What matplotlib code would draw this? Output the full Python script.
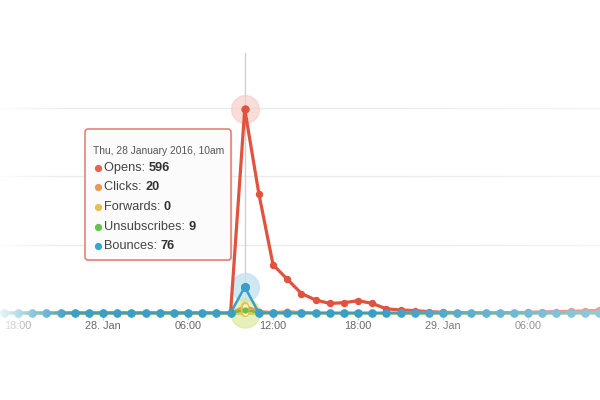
import numpy as np
import matplotlib
matplotlib.use('Agg')
import matplotlib.pyplot as plt
from matplotlib.patches import FancyBboxPatch

plt.rcParams['font.family'] = ['Liberation Sans', 'DejaVu Sans']

# hours counted from 28 Jan 2016 00:00
hours = list(range(-8, 37))

opens = [0]*18 + [596, 348, 141, 99, 57, 38, 28, 30, 36, 28, 12, 9, 7, 4,
                  2, 1, 1, 0, 1, 1, 2, 3, 4, 5, 6, 8, 10]
clicks = [0]*18 + [20, 6, 2, 5, 2, 1] + [0]*21
forwards = [0]*45
unsubs = [0]*18 + [9, 2, 1] + [0]*24
bounces = [0]*18 + [76] + [0]*26

tick_pos = [-6, 0, 6, 12, 18, 24, 30]
tick_labels = ['18:00', '28. Jan', '06:00', '12:00', '18:00', '29. Jan', '06:00']
edge_label = '12:00'   # next tick, cut by the right edge

tip_title = 'Thu, 28 January 2016, 10am'
tip_names = ['Opens', 'Clicks', 'Forwards', 'Unsubscribes', 'Bounces']
tip_values = ['596', '20', '0', '9', '76']
tip_colors = ['#e0664f', '#e89a55', '#e3c04f', '#66c14d', '#3aa6cc']

c_open = '#e0533d'
c_click = '#eb9a4e'
c_fwd = '#e6c34a'
c_unsub = '#6cbf48'
c_bounce = '#3a9fc6'

fig = plt.figure(figsize=(6, 4), dpi=100)
ax = fig.add_axes([0, 87/400, 1, 260/400])

ax.set_yticks([200, 400, 600])
ax.yaxis.grid(True, color='#ebebeb', lw=1)
ax.tick_params(axis='y', left=False, labelleft=False)
ax.set_xticks(tick_pos)
ax.set_xticklabels(tick_labels)
ax.tick_params(axis='x', length=5, width=1, color='#ccd6eb', labelcolor='#666666',
               labelsize=7.8, pad=1)
for s in ax.spines.values():
    s.set_visible(False)
ax.set_axisbelow(True)
ax.set_xlim(-7.27, 35.07)
ax.set_ylim(0, 760)

# partly hidden label at the right edge
ax.text(36, 0, edge_label, transform=ax.get_xaxis_transform(), fontsize=7.8, color='#666666',
        ha='center', va='top', clip_on=False)
ax.texts[-1].set_y(-0.0265)

# crosshair on hovered point
ax.axvline(10, color='#cfcfcf', lw=1, zorder=1)

# hover halos
ax.scatter([10], [opens[18]], s=400, color='#f6cfc9', alpha=0.7, zorder=2, clip_on=False)
ax.scatter([10], [bounces[18]], s=400, color='#c4e3f0', alpha=0.8, zorder=2, clip_on=False)
ax.scatter([10], [0], s=440, color='#d8e895', alpha=0.65, zorder=2, clip_on=False)

ax.plot(hours, opens, color=c_open, lw=2.3, marker='o', ms=4.3, zorder=3, clip_on=False)
ax.plot(hours, clicks, color=c_click, lw=1.8, marker='o', ms=3.5, zorder=4, clip_on=False)
ax.plot(hours, forwards, color=c_fwd, lw=1.8, marker='o', ms=3.5, zorder=4, clip_on=False)
ax.plot(hours, unsubs, color=c_unsub, lw=1.8, marker='o', ms=3.5, zorder=4, clip_on=False)
ax.plot(hours, bounces, color=c_bounce, lw=1.8, marker='o', ms=5.2, zorder=5, clip_on=False)

# hovered markers
ax.plot([10], [opens[18]], marker='o', ms=5, color=c_open, zorder=6, clip_on=False)
ax.plot([10], [bounces[18]], marker='o', ms=5.5, color=c_bounce, zorder=6, clip_on=False)
ax.plot([10, 10], [clicks[18], forwards[18]], color=c_fwd, lw=6, solid_capstyle='round',
        zorder=6, clip_on=False)
ax.plot([10, 10], [clicks[18], forwards[18]], color='#f7f4d8', lw=3.5, solid_capstyle='round',
        zorder=6, clip_on=False)
ax.plot([10], [unsubs[18]], marker='o', ms=3.5, color=c_unsub, zorder=7, clip_on=False)

# overlay: edge fading and tooltip
ov = fig.add_axes([0, 0, 1, 1], zorder=5)
ov.set_xlim(0, 600)
ov.set_ylim(400, 0)
ov.axis('off')
ov.patch.set_alpha(0)

px = np.arange(600)
alpha = np.zeros(600)
alpha += np.clip(1 - px/75.0, 0, 1)**1.3 * 0.9
alpha += np.clip((px - 380)/220.0, 0, 1) * 0.45
fade = np.ones((400, 600, 4))
fade[:, :, 3] = alpha[None, :]
ov.imshow(fade, extent=(0, 600, 400, 0), aspect='auto', zorder=1)

shadow = FancyBboxPatch((86.5, 130.5), 146, 131, boxstyle='round,pad=0,rounding_size=3',
                        fc='#000000', ec='none', alpha=0.08, zorder=2)
ov.add_patch(shadow)
box = FancyBboxPatch((85, 129), 146, 131, boxstyle='round,pad=0,rounding_size=3',
                     fc='#fbfbfb', ec='#e07a6a', lw=1.1, zorder=3)
ov.add_patch(box)

ov.text(93, 151, tip_title, fontsize=7.4, color='#555555', va='center', ha='left', zorder=4)
row_y = [168, 187, 207, 227, 246]
for name, val, col, y in zip(tip_names, tip_values, tip_colors, row_y):
    ov.plot([97.5], [y], marker='o', ms=4.2, color=col, zorder=4)
    t = ov.text(104, y, name + ': ', fontsize=9.2, color='#444444', va='center', ha='left', zorder=4)
    ov.annotate(val, xy=(1, 0.5), xycoords=t, fontsize=9.2, fontweight='bold', color='#333333',
                va='center', ha='left', zorder=4)

plt.savefig('out.png', dpi=100)
plt.close()
